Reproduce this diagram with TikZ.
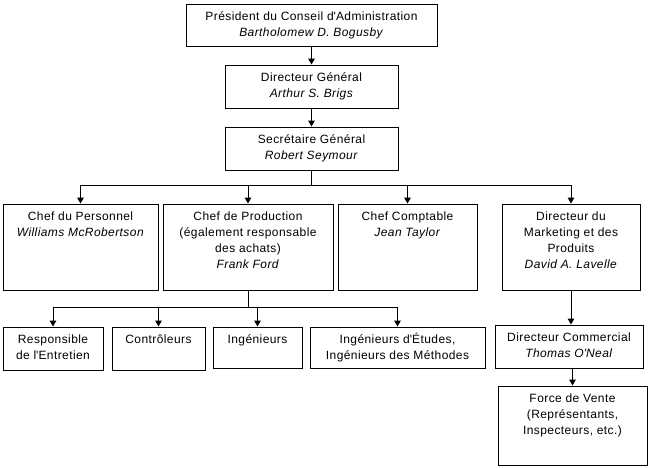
\documentclass[tikz,border=0pt]{standalone}
\usepackage{fontspec}
\setmainfont{Liberation Sans}[LetterSpace=3.5]
\usetikzlibrary{arrows.meta,fit}
\newcommand\orgbox[6]{%
  \node[box, fit={(#2,#3) (#4,#5)}] (#1) {};
  \node[lbl] (#1-t) at ([yshift=-4.5pt]#1.north) {\strut #6};
}
\begin{document}
\begin{tikzpicture}[x=0.75pt,y=-0.75pt,
  box/.style={draw, line width=0.75pt, inner sep=0pt},
  lbl/.style={anchor=north, align=center, inner sep=0pt, font=\fontsize{9}{12}\selectfont},
  arr/.style={line width=0.75pt, -{Triangle[width=5pt,length=4.5pt]}},
  ]
\useasboundingbox (0,0) rectangle (651,468);
\orgbox{pc}{186}{4}{437}{46}{Président du Conseil d\textquotesingle Administration\\ \textit{Bartholomew D. Bogusby}}
\orgbox{dg}{225}{65}{398}{108}{Directeur Général\\ \textit{Arthur S. Brigs}}
\orgbox{sg}{225}{127}{398}{170}{Secrétaire Général\\ \textit{Robert Seymour}}
\orgbox{per}{3}{204}{158}{290}{Chef du Personnel\\ \textit{Williams McRobertson}}
\orgbox{prod}{163}{204}{333}{290}{Chef de Production\\ (également responsable\\ des achats)\\ \textit{Frank Ford}}
\orgbox{cpt}{338}{204}{477}{290}{Chef Comptable\\ \textit{Jean Taylor}}
\orgbox{mkt}{502}{204}{640}{290}{Directeur du\\ Marketing et des\\ Produits\\ \textit{David A. Lavelle}}
\orgbox{ent}{3}{327}{103}{370}{Responsible\\ de l\textquotesingle Entretien}
\orgbox{ctl}{112}{327}{205}{370}{Contrôleurs}
\orgbox{ing}{213}{327}{302}{368}{Ingénieurs}
\orgbox{etu}{310}{327}{485}{368}{Ingénieurs d\textquotesingle Études,\\ Ingénieurs des Méthodes}
\orgbox{com}{495}{325}{643}{368}{Directeur Commercial\\ \textit{Thomas O\textquotesingle Neal}}
\orgbox{fv}{498}{386}{647}{465}{Force de Vente\\ (Représentants,\\ Inspecteurs, etc.)}

\draw[arr] (pc.south) -- (dg.north);
\draw[arr] (dg.south) -- (sg.north);
\foreach \c in {per,prod,cpt,mkt}
  \draw[arr] (sg.south) -- ++(0,15) -| (\c.north);
\foreach \c in {ent,ctl,ing,etu}
  \draw[arr] (prod.south) -- ++(0,17) -| (\c.north);
\draw[arr] (mkt.south) -- (mkt.south |- com.north);
\draw[arr] (fv.north |- com.south) -- (fv.north);
\end{tikzpicture}
\end{document}
